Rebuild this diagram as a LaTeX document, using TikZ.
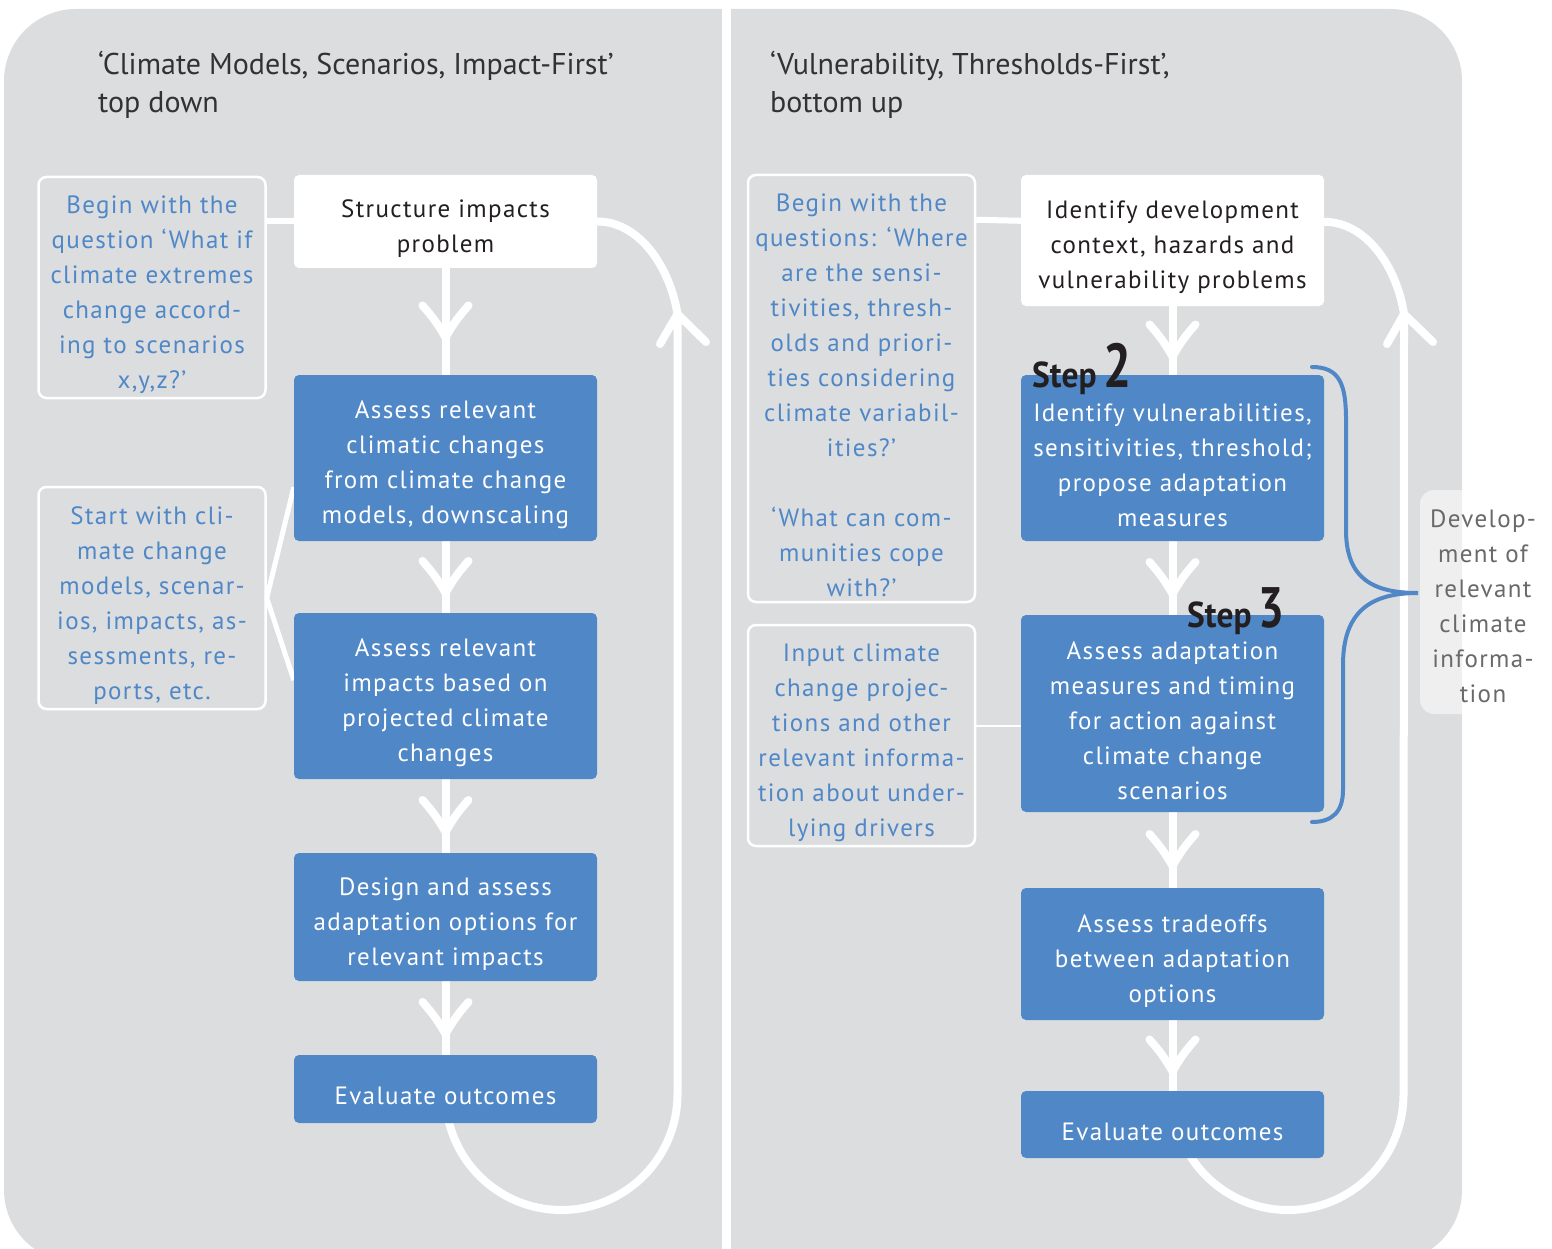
\documentclass[tikz,border=0pt]{standalone}
\usepackage{fontspec}
\setmainfont[LetterSpace=5.5]{PT Sans}
\newfontfamily\ttlfnt{PT Sans}
\newfontfamily\stepfnt[FakeStretch=0.93]{PT Sans}
\newfontfamily\numfnt[FakeStretch=0.8]{PT Sans}
\usetikzlibrary{calc}
\definecolor{bgray}{RGB}{220,221,223}
\definecolor{dblue}{RGB}{79,135,199}
\definecolor{ttxt}{RGB}{50,50,50}
\definecolor{sidetxt}{RGB}{105,105,105}
\definecolor{inkdark}{RGB}{35,31,32}
\newcommand\bfnt{\fontsize{25}{35}\selectfont}
\newcommand\tfnt{\ttlfnt\fontsize{30}{38}\selectfont}
\newcommand\tp{\rule{0pt}{32pt}}
\pgfdeclarelayer{back}
\pgfdeclarelayer{mid}
\pgfsetlayers{back,mid,main}
\begin{document}
\begin{tikzpicture}[x=1pt,y=-1pt,
  wbox/.style={fill=white, rounded corners=5, minimum width=303, text=inkdark, align=center, font=\bfnt, inner sep=0},
  bbox/.style={fill=dblue, rounded corners=5, minimum width=303, text=white, align=center, font=\bfnt, inner sep=0},
  obox/.style={draw=white, line width=2.5, rounded corners=8, minimum width=227, text=dblue, align=center, font=\bfnt, inner sep=0},
  flow/.style={draw=white, line width=8, line cap=round, line join=round},
  conn/.style={draw=white, line width=6},
  fan/.style={draw=white, line width=5},
  thinconn/.style={draw=white, line width=2},
  ttl/.style={anchor=base west, align=left, text=ttxt, font=\tfnt, inner sep=0},
  steplbl/.style={anchor=base west, inner sep=0, text=inkdark},
  vdown/.pic={\draw[flow] (-23,-16) to[bend left=6] (0,16) to[bend left=6] (23,-16);}
]
\useasboundingbox (0,0) rectangle (1552,1249);
\begin{pgfonlayer}{back}
\fill[bgray, rounded corners=72] (4,9) rectangle (1462,1262);
\fill[white] (722,-5) rectangle (731,1260);
\end{pgfonlayer}

% titles
\node[ttl] (t1) at (98,113) {‘Climate Models, Scenarios, Impact-First’\\top down};
\node[ttl] (t2) at (770,113) {‘Vulnerability, Thresholds-First’,\\bottom up};

% left column
\node[wbox, minimum height=93] (s1) at (445.5,221.5) {\tp Structure impacts\\problem};
\node[bbox, minimum height=166] (s2) at (445.5,458) {\tp Assess relevant\\climatic changes\\from climate change\\models, downscaling};
\node[bbox, minimum height=166] (s3) at (445.5,696) {\tp Assess relevant\\impacts based on\\projected climate\\changes};
\node[bbox, minimum height=128] (s4) at (445.5,917) {\tp Design and assess\\adaptation options for\\relevant impacts};
\node[bbox, minimum height=68] (s5) at (445.5,1089) {\tp Evaluate outcomes};

\node[obox, minimum height=221] (ta) at (152,287.5) {\tp Begin with the\\question ‘What if\\climate extremes\\change accord-\\ing to scenarios\\x,y,z?’};
\node[obox, minimum height=222] (tb) at (152,598) {\tp Start with cli-\\mate change\\models, scenar-\\ios, impacts, as-\\sessments, re-\\ports, etc.};

% right column
\node[wbox, minimum height=131] (r1) at (1172.5,240.5) {\tp Identify development\\context, hazards and\\vulnerability problems};
\node[bbox, minimum height=166] (r2) at (1172.5,458) {\tp Identify vulnerabilities,\\sensitivities, threshold;\\propose adaptation\\measures};
\node[bbox, minimum height=197] (r3) at (1172.5,713.5) {\tp Assess adaptation\\measures and timing\\for action against\\climate change\\scenarios};
\node[bbox, minimum height=132] (r4) at (1172.5,954) {\tp Assess tradeoffs\\between adaptation\\options};
\node[bbox, minimum height=67] (r5) at (1172.5,1124.5) {\tp Evaluate outcomes};

\node[obox, minimum height=427] (tc) at (861.5,388.5) {\tp Begin with the\\questions: ‘Where\\are the sensi-\\tivities, thresh-\\olds and priori-\\ties considering\\climate variabil-\\ities?’\\[35pt]‘What can com-\\munities cope\\with?’};
\node[obox, minimum height=221] (td) at (861.5,735.5) {\tp Input climate\\change projec-\\tions and other\\relevant informa-\\tion about under-\\lying drivers};

% side label
\node[fill=white, fill opacity=0.55, text opacity=1, rounded corners=14, minimum width=126, minimum height=224, inner sep=0, align=center, text=sidetxt, font=\bfnt] (side) at (1483,602) {\rule{0pt}{26pt}Develop-\\ment of\\relevant\\climate\\informa-\\tion};

% step labels
\node[steplbl] (st2) at (1032,387) {\stepfnt\bfseries\fontsize{36}{36}\selectfont Step\hspace{7pt}\numfnt\bfseries\fontsize{62}{62}\selectfont 2};
\node[steplbl] (st3) at (1187,627) {\stepfnt\bfseries\fontsize{36}{36}\selectfont Step\hspace{7pt}\numfnt\bfseries\fontsize{57}{57}\selectfont 3};

% coordinates for loops
\coordinate (lc) at (561,1094);
\coordinate (lTip) at (677.5,314);
\coordinate (lR) at (706,342);
\coordinate (lL) at (660,344);
\coordinate (rTip) at (1404,314);
\coordinate (rR) at (1433,342);
\coordinate (rL) at (1387,344);

\begin{pgfonlayer}{mid}
% left flow
\draw[flow] (s1.south) -- (s2.north);
\draw[flow] (s2.south) -- (s3.north);
\draw[flow] (s3.south) -- (s4.north);
\draw[flow] (s4.south) -- (s5.north);
\pic at ($(s1.south)!0.5!(s2.north)$) {vdown};
\pic at ($(s2.south)!0.5!(s3.north)$) {vdown};
\pic at ($(s3.south)!0.5!(s4.north)$) {vdown};
\pic at ($(s4.south)!0.5!(s5.north)$) {vdown};
\draw[flow] (s1.east) .. controls (640,221.5) and (670,268) .. (lTip) -- (lR);
\draw[flow] (s5.center |- lc) arc[start angle=180, end angle=0, radius=116] -- (lTip) -- (lL);
\draw[conn] (ta.east |- s1.west) -- (s1.west);
\draw[fan] (tb.east) -- ($(s2.south west)+(0,-54)$);
\draw[fan] (tb.east) -- ($(s3.south west)+(0,-99)$);

% right flow
\draw[flow] (r1.south) -- (r2.north);
\draw[flow] (r2.south) -- (r3.north);
\draw[flow] (r3.south) -- (r4.north);
\draw[flow] (r4.south) -- (r5.north);
\pic at ($(r1.south)!0.5!(r2.north)$) {vdown};
\pic at ($(r2.south)!0.5!(r3.north)$) {vdown};
\pic at ($(r3.south)!0.5!(r4.north)$) {vdown};
\pic at ($(r4.south)!0.5!(r5.north)$) {vdown};
\draw[flow] ($(r1.north east)+(0,47)$) .. controls (1367,222) and (1397,268) .. (rTip) -- (rR);
\draw[flow] ($(r5.center)+(0,-30)$) arc[start angle=180, end angle=0, radius=115.5] -- (rTip) -- (rL);
\draw[conn] ($(tc.north east)+(0,46)$) -- ($(r1.north west)+(0,46)$);
\draw[thinconn] ($(td.east)+(0,-10)$) -- ($(td.east -| r3.west)+(0,-10)$);
\end{pgfonlayer}

% brace
\coordinate (bT) at (1312,367);
\coordinate (bB) at (1312,822);
\coordinate (bP) at (1418,593);
\draw[dblue, line width=4, line cap=round] (bT) .. controls (1340,367) and (1346,385) .. (1346,420) -- (1346,530) .. controls (1346,578) and (1372,593) .. (bP) .. controls (1370,593) and (1343,612) .. (1343,665) -- (1343,790) .. controls (1343,812) and (1332,822) .. (bB);
\end{tikzpicture}
\end{document}
